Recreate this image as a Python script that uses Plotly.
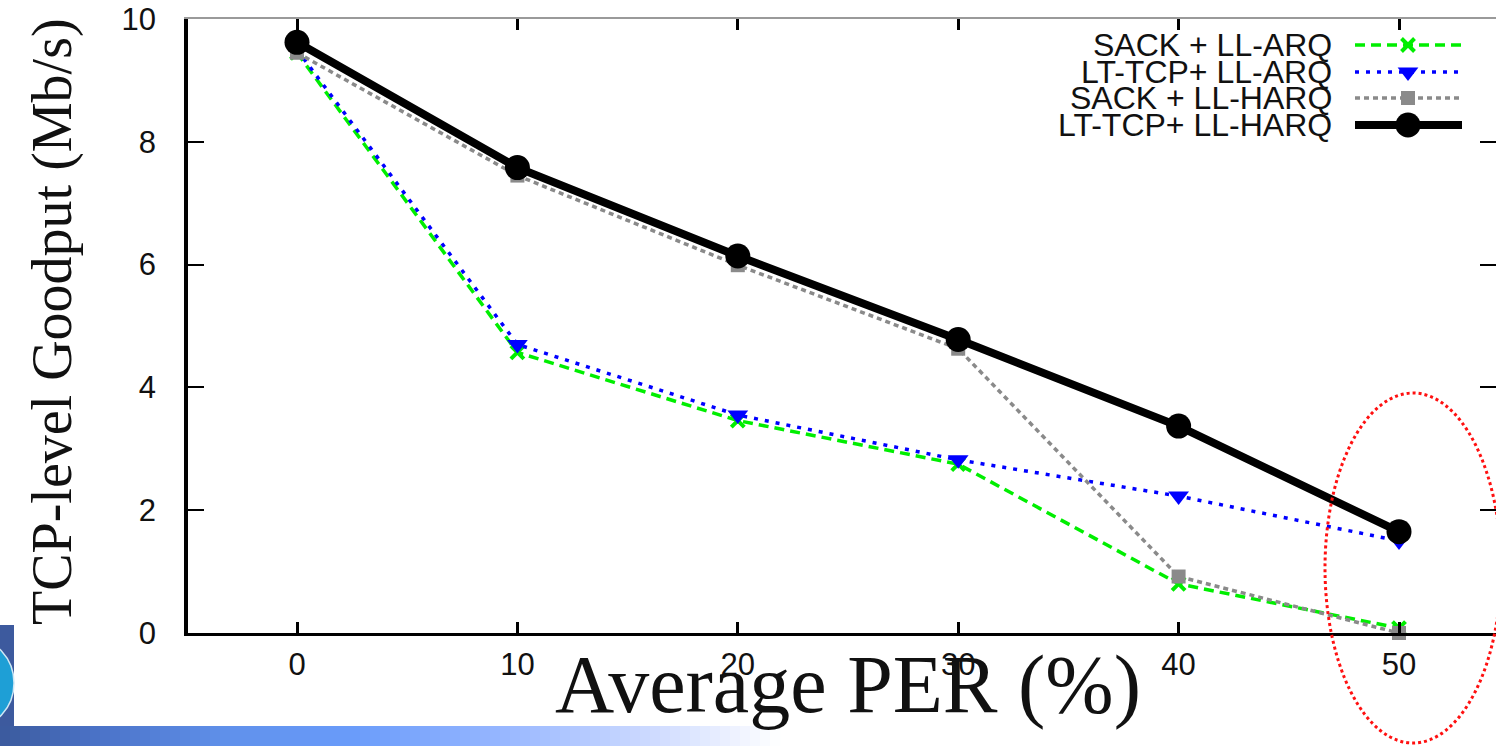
import plotly.graph_objects as go

# ---- data ----
per = [0, 10, 20, 30, 40, 50]
sack_ll_arq = [9.45, 4.57, 3.46, 2.75, 0.80, 0.08]
lttcp_ll_arq = [9.50, 4.70, 3.55, 2.82, 2.23, 1.50]
sack_ll_harq = [9.45, 7.45, 5.99, 4.63, 0.92, 0.0]
lttcp_ll_harq = [9.62, 7.58, 6.14, 4.78, 3.37, 1.65]
series_names = ["SACK + LL-ARQ", "LT-TCP+ LL-ARQ", "SACK + LL-HARQ", "LT-TCP+ LL-HARQ"]
x_ticks = [0, 10, 20, 30, 40, 50]
y_ticks = [0, 2, 4, 6, 8, 10]

W, H = 1496, 746
L, R, T, B = 188, 1496, 19, 633   # plot area in canvas pixels

def px(xp):
    return (xp - L) / (R - L)

def py(yp):
    return (B - yp) / (B - T)

styles = [
    dict(color="#00ee00", dash="10px,6px", width=3.5, symbol="x-thin", msize=13, mlw=4),
    dict(color="#0000ff", dash="4px,7px", width=3.5, symbol="triangle-down", msize=18, mlw=0),
    dict(color="#8a8a8a", dash="5px,4px", width=3.5, symbol="square", msize=14, mlw=0),
    dict(color="#000000", dash="solid", width=8, symbol="circle", msize=25, mlw=0),
]
series = [sack_ll_arq, lttcp_ll_arq, sack_ll_harq, lttcp_ll_harq]

fig = go.Figure()
for name, ys, st in zip(series_names, series, styles):
    fig.add_trace(go.Scatter(
        x=per, y=ys, name=name, mode="lines+markers", cliponaxis=False,
        line=dict(color=st["color"], dash=st["dash"], width=st["width"]),
        marker=dict(symbol=st["symbol"], size=st["msize"], color=st["color"],
                    line=dict(color=st["color"], width=st["mlw"])),
        showlegend=False,
    ))

# invisible traces to activate mirror axes
fig.add_trace(go.Scatter(x=[None], y=[None], xaxis="x2", yaxis="y", showlegend=False, hoverinfo="skip"))
fig.add_trace(go.Scatter(x=[None], y=[None], xaxis="x", yaxis="y2", showlegend=False, hoverinfo="skip"))

# custom legend samples (on pixel-coordinate overlay axes)
leg_rows = [45, 72, 98, 125]
for name, st, ry in zip(series_names, styles, leg_rows):
    fig.add_trace(go.Scatter(
        x=[1355, 1462], y=[ry, ry], xaxis="x3", yaxis="y3", mode="lines",
        line=dict(color=st["color"], dash=st["dash"], width=st["width"]),
        showlegend=False, hoverinfo="skip", cliponaxis=False,
    ))
    fig.add_trace(go.Scatter(
        x=[1408], y=[ry], xaxis="x3", yaxis="y3", mode="markers",
        marker=dict(symbol=st["symbol"], size=st["msize"], color=st["color"],
                    line=dict(color=st["color"], width=st["mlw"])),
        showlegend=False, hoverinfo="skip", cliponaxis=False,
    ))
    fig.add_annotation(text=name, xref="paper", yref="paper", x=px(1334), y=py(ry),
                       xanchor="right", yanchor="middle", showarrow=False,
                       font=dict(family="Liberation Sans", size=32, color="#111"))

ppu_x = (1399 - 297) / 50.0
xmin = -(297 - L) / ppu_x
xmax = xmin + (R - L) / ppu_x

tickfont = dict(family="Liberation Sans", size=31, color="#111")
fig.update_layout(
    width=W, height=H,
    margin=dict(l=L, r=W - R, t=T, b=H - B, pad=0, autoexpand=False),
    paper_bgcolor="white", plot_bgcolor="white",
    showlegend=False,
    xaxis=dict(range=[xmin, xmax], tickvals=x_ticks, ticks="inside", ticklen=11, tickwidth=3,
               tickcolor="black", showline=True, linecolor="black", linewidth=3,
               showgrid=False, zeroline=False, tickfont=tickfont, ticklabelstandoff=2,
               automargin=False),
    xaxis2=dict(overlaying="x", side="top", matches="x", tickvals=x_ticks, ticks="inside",
                ticklen=11, tickwidth=3, tickcolor="black", showline=True,
                linecolor="#9a9a9a", linewidth=1.5, showticklabels=False,
                showgrid=False, zeroline=False, automargin=False),
    yaxis=dict(range=[0, 10], tickvals=y_ticks, ticks="inside", ticklen=16, tickwidth=1.5,
               tickcolor="black", showline=True, linecolor="black", linewidth=3.5,
               showgrid=False, zeroline=False, tickfont=tickfont, ticklabelstandoff=22,
               automargin=False),
    yaxis2=dict(overlaying="y", side="right", matches="y", tickvals=y_ticks, ticks="inside",
                ticklen=16, tickwidth=1.5, tickcolor="black", showline=False,
                showticklabels=False, showgrid=False, zeroline=False, automargin=False),
    xaxis3=dict(overlaying="x", range=[L, R], visible=False, fixedrange=True, automargin=False),
    yaxis3=dict(overlaying="y", range=[B, T], visible=False, fixedrange=True, automargin=False),
)

# axis titles
fig.add_annotation(text="Average PER (%)", xref="paper", yref="paper", x=px(848), y=py(684),
                   xanchor="center", yanchor="middle", showarrow=False,
                   font=dict(family="Liberation Serif", size=82, color="#111"))
fig.add_annotation(text="TCP-level Goodput (Mb/s)", xref="paper", yref="paper", x=px(52), y=py(322),
                   xanchor="center", yanchor="middle", showarrow=False, textangle=-90,
                   font=dict(family="Liberation Serif", size=56, color="#111"))

# red dotted ellipse highlight
fig.add_shape(type="circle", xref="paper", yref="paper",
              x0=px(1325), x1=px(1501), y0=py(743), y1=py(393),
              line=dict(color="#ff1010", width=3, dash="dot"), layer="above")

# bottom gradient bar (slide decoration)
stops = [(0, (59, 90, 157)), (100, (75, 115, 200)), (230, (96, 145, 235)), (350, (105, 155, 250)),
         (500, (150, 182, 255)), (650, (205, 218, 255)), (780, (255, 255, 255))]
def col_at(x):
    for (xa, ca), (xb, cb) in zip(stops[:-1], stops[1:]):
        if xa <= x <= xb:
            t = (x - xa) / (xb - xa)
            return "rgb(%d,%d,%d)" % tuple(round(a + (b - a) * t) for a, b in zip(ca, cb))
    return "white"
step = 10
for xs in range(0, 780, step):
    fig.add_shape(type="rect", xref="paper", yref="paper",
                  x0=px(xs), x1=px(xs + step + 0.5), y0=py(746), y1=py(726),
                  fillcolor=col_at(xs + step / 2), line_width=0, layer="below")
# left block with globe
fig.add_shape(type="rect", xref="paper", yref="paper", x0=px(0), x1=px(14), y0=py(726), y1=py(625),
              fillcolor="rgb(61,90,158)", line_width=0, layer="below")
fig.add_shape(type="circle", xref="paper", yref="paper", x0=px(-70), x1=px(14), y0=py(728), y1=py(638),
              fillcolor="#1e9fd6", line=dict(color="#cfe8f5", width=1.5), layer="below")

fig.write_html("out.html", config={"displayModeBar": False},
               post_script="document.body.style.margin='0';document.body.style.overflow='hidden';")
